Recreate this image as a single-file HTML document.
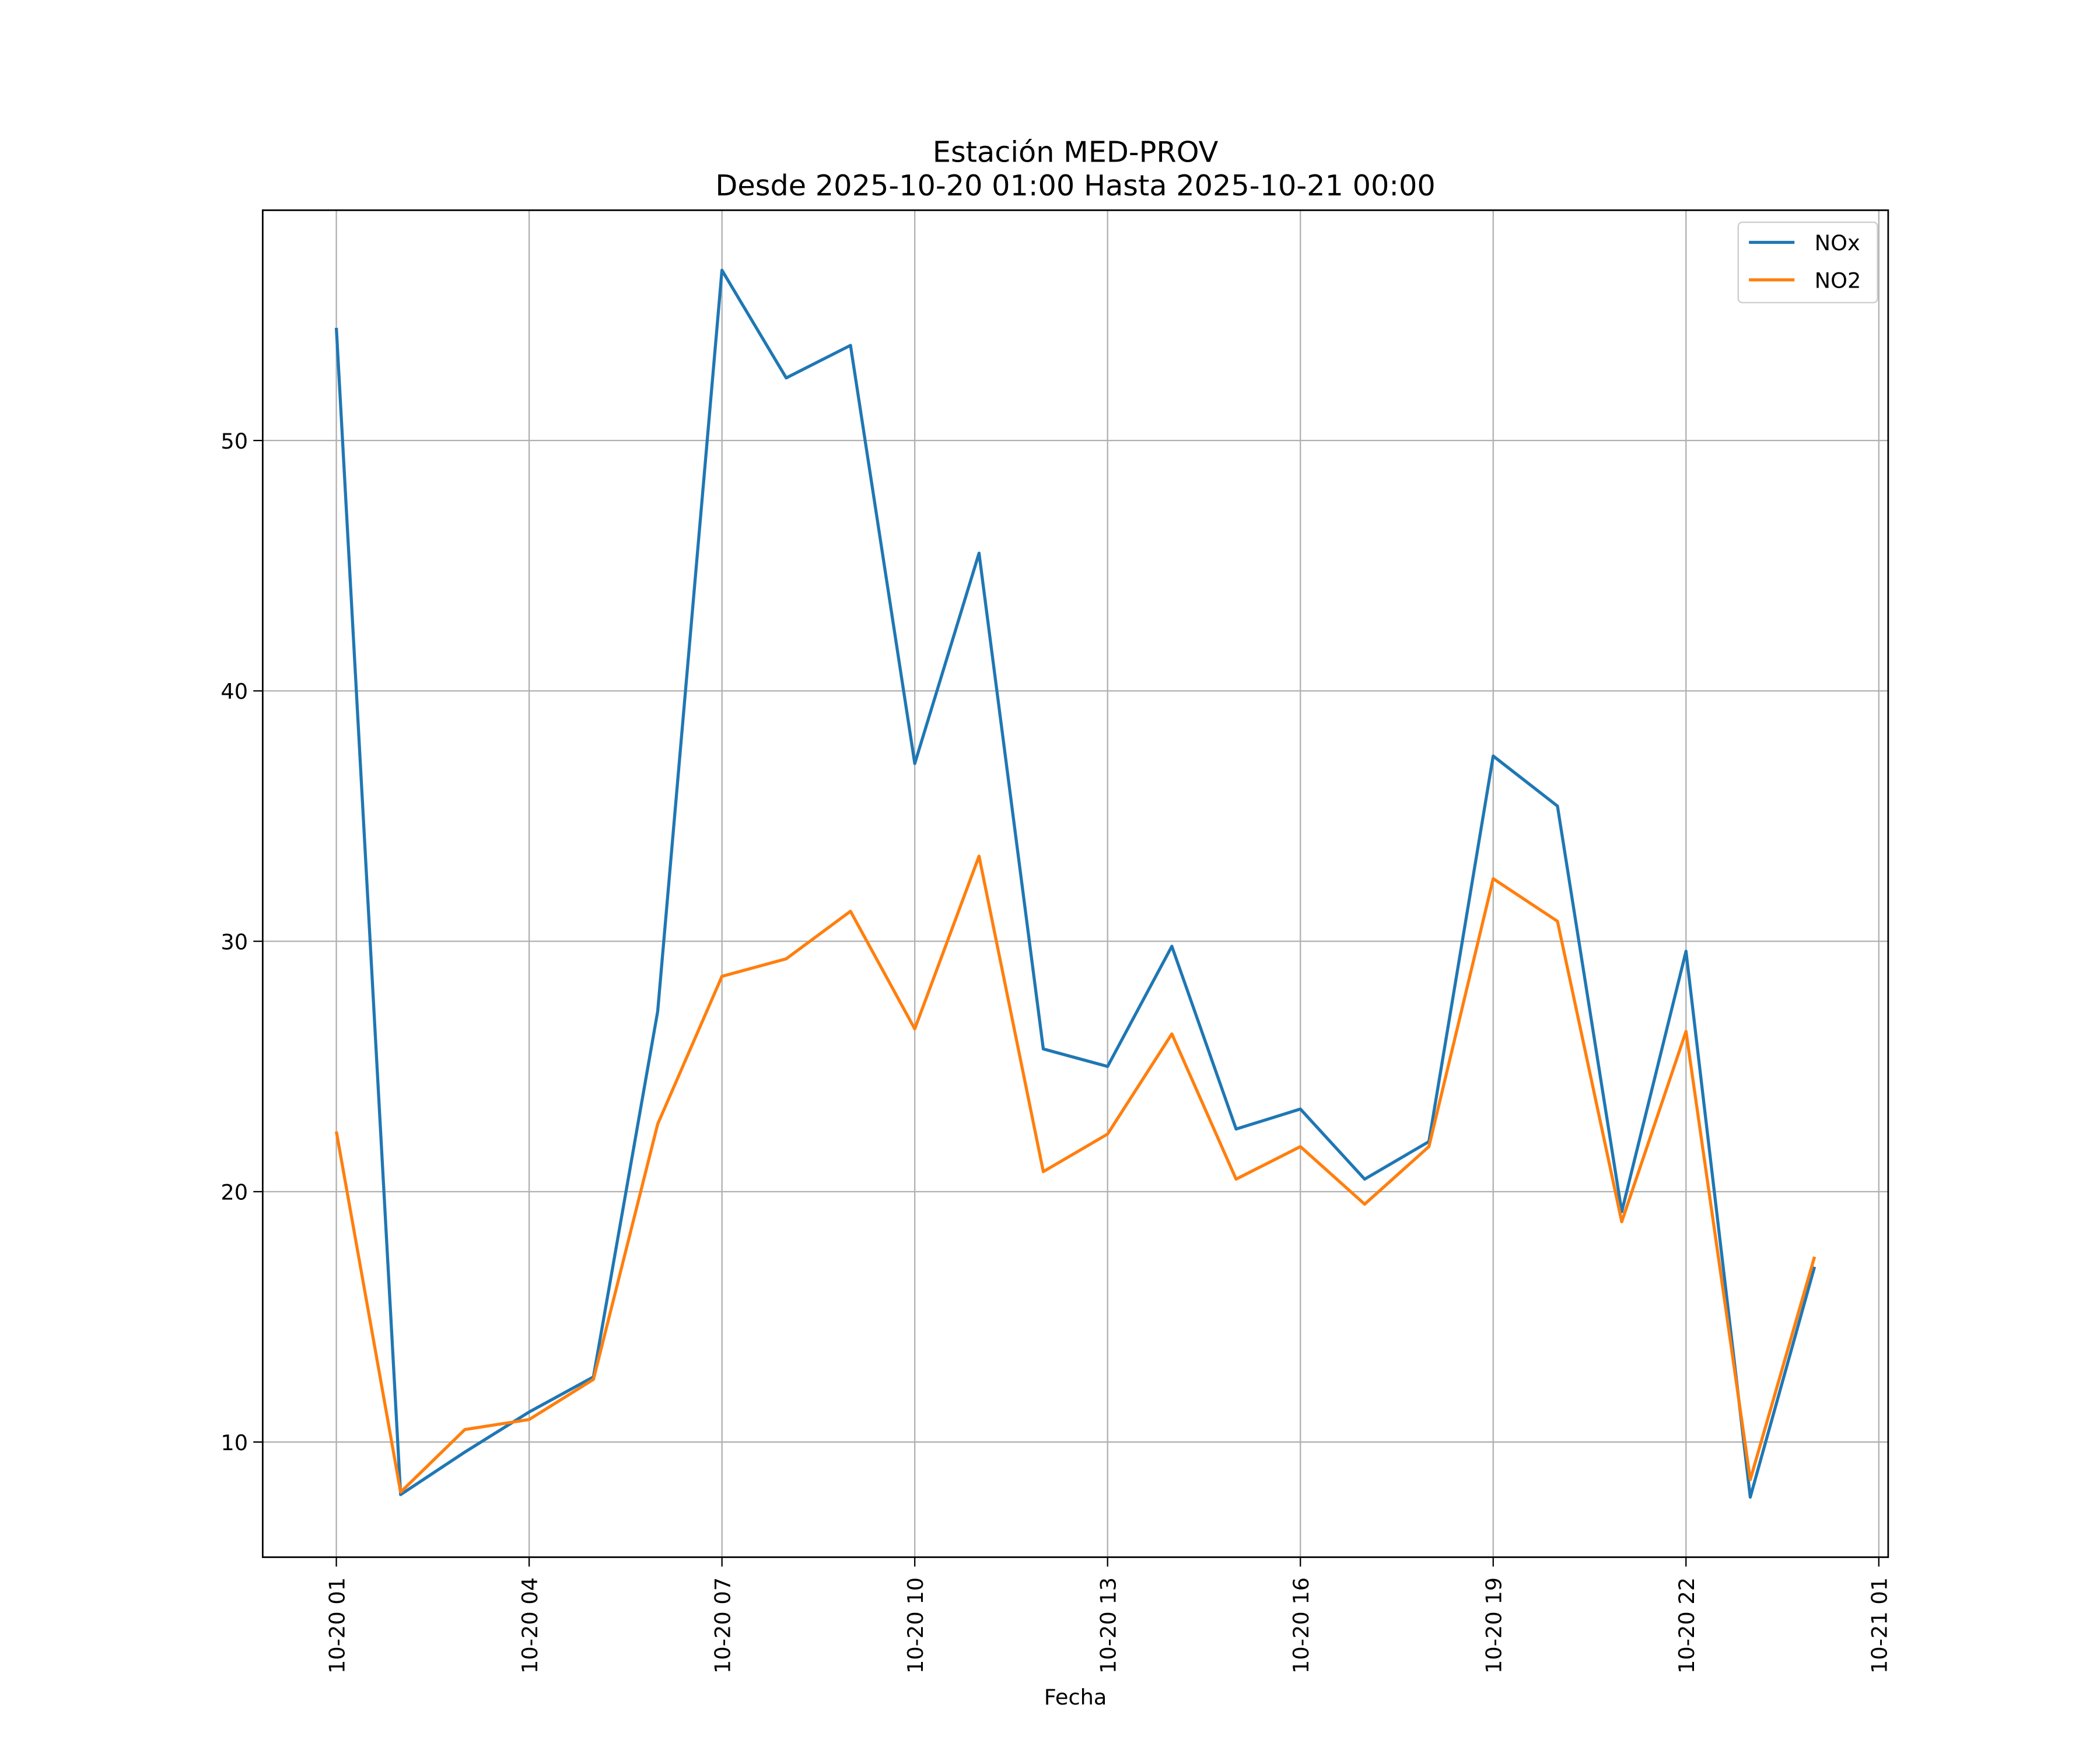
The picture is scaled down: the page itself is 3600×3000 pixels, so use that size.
<!DOCTYPE html>
<html><head><meta charset="utf-8"><style>
html,body{margin:0;padding:0;background:#fff;}
svg{display:block;font-family:"DejaVu Sans","Liberation Sans",sans-serif;}
</style></head><body>
<svg id="chart" width="3600" height="3000" viewBox="0 0 1568 1307" xmlns="http://www.w3.org/2000/svg">
<rect width="1568" height="1307" fill="#fff"/>
<text x="803" y="121" font-size="21.5" text-anchor="middle">Estación MED-PROV</text>
<text x="803" y="146" font-size="21.5" text-anchor="middle">Desde 2025-10-20 01:00 Hasta 2025-10-21 00:00</text>
<g id="grid"></g>
<g id="series"></g>
<rect x="196" y="157" width="1214" height="1006" fill="none" stroke="#000" stroke-width="1.2"/>
<g id="ticks"></g>
<text x="803" y="1273" font-size="16" text-anchor="middle">Fecha</text>
<g>
<rect x="1298" y="166" width="104" height="60" fill="#fff" fill-opacity="0.8" stroke="#ccc" rx="3"/>
<g>
<line x1="1306" y1="181" x2="1340" y2="181" stroke="#1f77b4" stroke-width="2.3"/>
<text x="1355" y="187" font-size="16">NOx</text></g>
<g>
<line x1="1306" y1="209" x2="1340" y2="209" stroke="#ff7f0e" stroke-width="2.3"/>
<text x="1355" y="215" font-size="16">NO2</text></g>
</g>
</svg>
<script>
const hours = [1,2,3,4,5,6,7,8,9,10,11,12,13,14,15,16,17,18,19,20,21,22,23,24];
const noxValues = [54.5,7.9,9.6,11.2,12.6,27.2,56.8,52.5,53.8,37.1,45.5,25.7,25.0,29.8,22.5,23.3,20.5,22.0,37.4,35.4,19.2,29.6,7.8,17.0];
const no2Values = [22.4,8.0,10.5,10.9,12.5,22.7,28.6,29.3,31.2,26.5,33.4,20.8,22.3,26.3,20.5,21.8,19.5,21.8,32.5,30.8,18.8,26.4,8.5,17.4];
const xTickHours = [1,4,7,10,13,16,19,22,25];
const xTickLabels = ["10-20 01","10-20 04","10-20 07","10-20 10","10-20 13","10-20 16","10-20 19","10-20 22","10-21 01"];
const yTicks = [10,20,30,40,50];

const NS="http://www.w3.org/2000/svg";
function xs(h){return 251+(h-1)*48;}
function ys(v){return 1077-(v-10)*18.7;}
function mk(tag,attrs,parent){const e=document.createElementNS(NS,tag);for(const k in attrs)e.setAttribute(k,attrs[k]);parent.appendChild(e);return e;}
const grid=document.getElementById('grid'),ticks=document.getElementById('ticks'),series=document.getElementById('series');
xTickHours.forEach((h,i)=>{
  const x=xs(h);
  const g=mk('line',{x1:x,x2:x,y1:157,y2:1163,stroke:'#b0b0b0','stroke-width':1},grid);
  
  
  mk('line',{x1:x,x2:x,y1:1163,y2:1170,stroke:'#000','stroke-width':1},ticks);
  const t=mk('text',{x:0,y:0,'font-size':16,'text-anchor':'end',transform:`translate(${x+6},1178) rotate(-90)`},ticks);
  t.textContent=xTickLabels[i];
  
  
});
yTicks.forEach(v=>{
  const y=ys(v);
  const g=mk('line',{x1:196,x2:1410,y1:y,y2:y,stroke:'#b0b0b0','stroke-width':1},grid);
  
  
  mk('line',{x1:189,x2:196,y1:y,y2:y,stroke:'#000','stroke-width':1},ticks);
  const t=mk('text',{x:185,y:y+6,'font-size':16,'text-anchor':'end'},ticks);
  t.textContent=v;
  
  
});
function line(vals,color,name){
  const p=mk('polyline',{points:vals.map((v,i)=>xs(hours[i])+','+ys(v)).join(' '),fill:'none',stroke:color,'stroke-width':2.3,'stroke-linejoin':'round'},series);
  
  
}
line(noxValues,'#1f77b4','nox-line');
line(no2Values,'#ff7f0e','no2-line');
</script>
</body></html>
